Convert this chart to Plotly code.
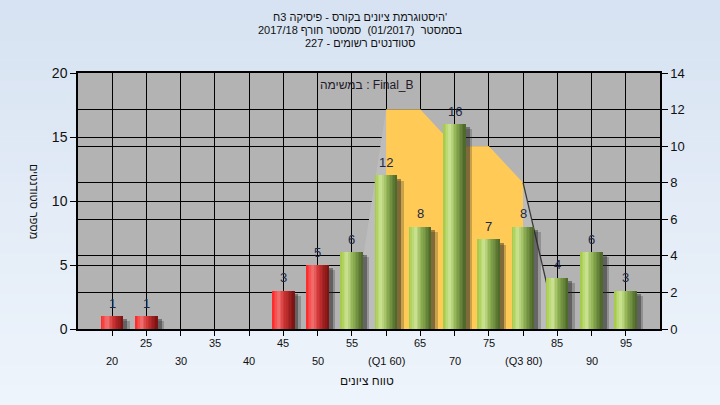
import plotly.graph_objects as go
import numpy as np

# ---------------- data ----------------
categories = [20, 25, 30, 35, 40, 45, 50, 55, 60, 65, 70, 75, 80, 85, 90, 95]
counts = [1, 1, 0, 0, 0, 3, 5, 6, 12, 8, 16, 7, 8, 4, 6, 3]
tick_labels = ['20', '25', '30', '35', '40', '45', '50', '55', '(Q1 60)', '65',
               '70', '75', '(Q3 80)', '85', '90', '95']
pass_from = 55
# distribution band (right axis scale)
band_x = [55, 60, 65, 70, 75, 80, 85]
band_top = [0, 12, 12, 10, 10, 8, 0]
quart_x = [60, 60, 65, 70, 75, 80, 80]
quart_top = [0, 12, 12, 10, 10, 8, 0]
whisker_x = [80, 85]
whisker_y = [8, 0]
left_ticks = [0, 5, 10, 15, 20]
right_ticks = [0, 2, 4, 6, 8, 10, 12, 14]
title_lines = ["היסטוגרמת ציונים בקורס - פיסיקה 3ח'",
               "בסמסטר  (01/2017)  סמסטר חורף 2017/18",
               "סטודנטים רשומים - 227"]
task_label = "במשימה : Final_B"
x_title = "טווח ציונים"
y_title = "מספר סטודנטים"

# ---------------- styling helpers ----------------
FONT = "Liberation Sans, Arial, sans-serif"
W, H = 720, 405
L, R, T, B = 78, 60, 73, 76
pw, ph = W - L - R, H - T - B


def px_to_paper_x(px):
    return (px - L) / pw


def px_to_paper_y(py):
    return (H - B - py) / ph


def hex2rgb(h):
    h = h.lstrip('#')
    return np.array([int(h[i:i + 2], 16) for i in (0, 2, 4)], dtype=float)


def grad(stops, t):
    pos = [s[0] for s in stops]
    cols = [hex2rgb(s[1]) for s in stops]
    r = np.interp(t, pos, [c[0] for c in cols])
    g = np.interp(t, pos, [c[1] for c in cols])
    b = np.interp(t, pos, [c[2] for c in cols])
    return 'rgb(%d,%d,%d)' % (r, g, b)


red_stops = [(0, '#ff2424'), (0.3, '#f27272'), (0.55, '#d03535'), (1, '#7a1212')]
green_stops = [(0, '#a2c842'), (0.3, '#cde596'), (0.55, '#93b455'), (1, '#4a6528')]

fig = go.Figure()

# background gradient + plot bg
shapes = []
n_bg = 40
for i in range(n_bg):
    y0 = -B / ph + (H / ph) * i / n_bg
    y1 = -B / ph + (H / ph) * (i + 1) / n_bg
    t = 1 - (i + 0.5) / n_bg
    shapes.append(dict(type='rect', xref='paper', yref='paper',
                       x0=-L / pw, x1=1 + R / pw, y0=y0, y1=y1 + 0.002,
                       fillcolor=grad([(0, '#d7e3f2'), (1, '#eff5fc')], t),
                       line=dict(width=0), layer='below'))
shapes.append(dict(type='rect', xref='paper', yref='paper', x0=0, x1=1, y0=0, y1=1,
                   fillcolor='#b3b3b3', line=dict(width=0), layer='below'))

# distribution band on primary (right) axis
fig.add_trace(go.Scatter(x=band_x, y=band_top, fill='toself', mode='lines',
                         fillcolor='#bcbcbc', line=dict(width=0), hoverinfo='skip',
                         showlegend=False, yaxis='y'))
fig.add_trace(go.Scatter(x=quart_x, y=quart_top, fill='toself', mode='lines',
                         fillcolor='#ffca55', line=dict(width=0), hoverinfo='skip',
                         showlegend=False, yaxis='y'))
fig.add_trace(go.Scatter(x=whisker_x, y=whisker_y, mode='lines',
                         line=dict(color='#3a3a3a', width=1.3), hoverinfo='skip',
                         showlegend=False, yaxis='y'))

bw = 3.2  # bar width in x units
# shadows
sh1 = [max(v - 0.25, 0) for v in counts]
sh2 = [max(v - 0.4, 0) for v in counts]
fig.add_trace(go.Bar(x=categories, y=sh2, width=bw, offset=-bw / 2 + 0.95,
                     marker=dict(color='rgba(40,40,40,0.25)', line=dict(width=0)),
                     yaxis='y2', showlegend=False, hoverinfo='skip'))
fig.add_trace(go.Bar(x=categories, y=sh1, width=bw, offset=-bw / 2 + 0.6,
                     marker=dict(color='rgba(40,40,40,0.45)', line=dict(width=0)),
                     yaxis='y2', showlegend=False, hoverinfo='skip'))

# bars with horizontal gradient (stripes)
N = 14
for i in range(N):
    t = (i + 0.5) / N
    cols = [grad(green_stops if c >= pass_from else red_stops, t) for c in categories]
    fig.add_trace(go.Bar(x=categories, y=counts, width=bw / N + 0.02,
                         offset=-bw / 2 + i * bw / N,
                         marker=dict(color=cols, line=dict(width=0)),
                         yaxis='y2', showlegend=False, hoverinfo='skip'))

annotations = []
# value labels
for c, v in zip(categories, counts):
    if v > 0:
        annotations.append(dict(text=str(v), x=c, y=v, xref='x', yref='y2',
                                yshift=13, xanchor='center', yanchor='middle',
                                showarrow=False,
                                font=dict(family=FONT, size=13, color='#1b2846')))
for k, line in enumerate(title_lines):
    annotations.append(dict(text=line, xref='paper', yref='paper',
                            x=px_to_paper_x(360), y=px_to_paper_y(17 + 13 * k),
                            xanchor='center', yanchor='middle', showarrow=False,
                            font=dict(family=FONT, size=11, color='#111111')))
annotations.append(dict(text=task_label, xref='paper', yref='paper',
                        x=px_to_paper_x(367), y=px_to_paper_y(85),
                        xanchor='center', yanchor='middle', showarrow=False,
                        font=dict(family=FONT, size=12, color='#221a2a')))
for i, (c, lab) in enumerate(zip(categories, tick_labels)):
    row_y = 343 if i % 2 == 1 else 361
    annotations.append(dict(text=lab, x=c, xref='x', yref='paper',
                            y=px_to_paper_y(row_y), xanchor='center', yanchor='middle',
                            showarrow=False,
                            font=dict(family=FONT, size=11, color='#111111')))
annotations.append(dict(text=x_title, xref='paper', yref='paper',
                        x=px_to_paper_x(367), y=px_to_paper_y(381),
                        xanchor='center', yanchor='middle', showarrow=False,
                        font=dict(family=FONT, size=12, color='#111111')))
annotations.append(dict(text=y_title, xref='paper', yref='paper',
                        x=px_to_paper_x(34), y=px_to_paper_y(201), textangle=90,
                        xanchor='center', yanchor='middle', showarrow=False,
                        font=dict(family=FONT, size=11, color='#111111')))

fig.update_layout(
    width=W, height=H, margin=dict(l=L, r=R, t=T, b=B, pad=0),
    paper_bgcolor='#e6eef8', plot_bgcolor='rgba(0,0,0,0)',
    barmode='overlay', bargap=0, showlegend=False,
    shapes=shapes, annotations=annotations,
    font=dict(family=FONT, size=13, color='#111111'),
    xaxis=dict(range=[15, 100], tickvals=categories, showticklabels=False,
               ticks='outside', ticklen=5, tickcolor='black',
               showgrid=True, gridcolor='black', gridwidth=1,
               showline=True, linecolor='black', linewidth=1.5, mirror=True,
               zeroline=False, fixedrange=True),
    yaxis=dict(range=[0, 14], tickvals=right_ticks, side='right',
               ticks='outside', ticklen=6, tickcolor='black',
               showgrid=True, gridcolor='black', gridwidth=1,
               showline=True, linecolor='black', linewidth=1.5,
               zeroline=False, tickfont=dict(family=FONT, size=13, color='#111111')),
    yaxis2=dict(range=[0, 20], tickvals=left_ticks, side='left', overlaying='y',
                ticks='outside', ticklen=6, tickcolor='black',
                showgrid=True, gridcolor='black', gridwidth=1,
                showline=True, linecolor='black', linewidth=1.5,
                zeroline=False, tickfont=dict(family=FONT, size=14, color='#111111')),
)

fig.write_html("out.html", config={'displayModeBar': False},
               post_script="document.body.style.margin='0';")
